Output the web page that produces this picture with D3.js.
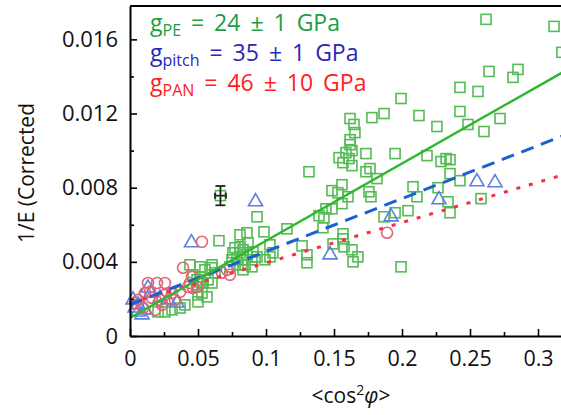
<!DOCTYPE html>
<html>
<head>
<meta charset="utf-8">
<script src="https://cdn.jsdelivr.net/npm/d3@7"></script>
<style>
  body { margin: 0; background: #fff; }
  svg { display: block; font-family: "Open Sans", sans-serif; }
</style>
</head>
<body>
<svg id="chart"></svg>
<script>
// PE (squares)
const peX = [0.2618, 0.3118, 0.3176, 0.2640, 0.2853, 0.2816, 0.2426, 0.2559, 0.1993, 0.1868,
  0.2125, 0.2426, 0.2257, 0.2485, 0.2603, 0.2721, 0.1949, 0.2184, 0.2287, 0.2324,
  0.2353, 0.2353, 0.2426, 0.2081, 0.2265, 0.2581, 0.2110, 0.2338, 0.2353, 0.2044,
  0.1949, 0.1868, 0.1993,
  0.1618, 0.1647, 0.1654, 0.1618, 0.1618, 0.1632, 0.1588, 0.1537, 0.1566, 0.1610,
  0.1632, 0.1735, 0.1779, 0.1316, 0.1735, 0.1765, 0.1816, 0.1757, 0.1772, 0.1559,
  0.1485, 0.1529, 0.1603, 0.1559, 0.1485, 0.1441, 0.1390, 0.1426, 0.1419, 0.1566,
  0.1566, 0.1574, 0.1493, 0.1632, 0.1676, 0.1640, 0.1265, 0.1301, 0.1301, 0.1154,
  0.0934, 0.0985, 0.1029, 0.0654, 0.0860, 0.0809, 0.0772, 0.0809, 0.0831, 0.0868,
  0.0757, 0.0809, 0.0860, 0.0904, 0.0934, 0.0897, 0.0831, 0.0787, 0.0750, 0.0735,
  0.0794, 0.0846, 0.0897, 0.0831, 0.0993, 0.1029, 0.1051, 0.0515, 0.0551, 0.0603,
  0.0625, 0.0574, 0.0537, 0.0463, 0.0441, 0.0515, 0.0603, 0.0493, 0.0515, 0.0493,
  0.0529, 0.0566, 0.0500, 0.0603, 0.0404, 0.0368, 0.0309, 0.0257, 0.0206, 0.0500];
const peY = [0.01708, 0.01670, 0.01530, 0.01427, 0.01438, 0.01395, 0.01341, 0.01319, 0.01281, 0.01200,
  0.01189, 0.01211, 0.01130, 0.01141, 0.01103, 0.01173, 0.00984, 0.00973, 0.00941, 0.00957,
  0.00951, 0.00876, 0.00838, 0.00805, 0.00800, 0.00741, 0.00751, 0.00724, 0.00665, 0.00676,
  0.00665, 0.00643, 0.00373,
  0.01173, 0.01141, 0.01097, 0.01059, 0.01032, 0.01000, 0.00989, 0.00962, 0.00935, 0.00957,
  0.00919, 0.00984, 0.01178, 0.00886, 0.00886, 0.00903, 0.00849, 0.00778, 0.00751, 0.00816,
  0.00784, 0.00773, 0.00751, 0.00714, 0.00686, 0.00686, 0.00649, 0.00638, 0.00584, 0.00551,
  0.00524, 0.00481, 0.00497, 0.00465, 0.00427, 0.00400, 0.00486, 0.00438, 0.00395, 0.00578,
  0.00643, 0.00562, 0.00492, 0.00514, 0.00557, 0.00546, 0.00476, 0.00481, 0.00465, 0.00503,
  0.00449, 0.00449, 0.00438, 0.00454, 0.00427, 0.00411, 0.00411, 0.00422, 0.00411, 0.00373,
  0.00384, 0.00384, 0.00373, 0.00357, 0.00411, 0.00427, 0.00449, 0.00319, 0.00357, 0.00368,
  0.00341, 0.00303, 0.00286, 0.00330, 0.00384, 0.00373, 0.00384, 0.00303, 0.00292, 0.00265,
  0.00232, 0.00211, 0.00184, 0.00286, 0.00168, 0.00151, 0.00141, 0.00130, 0.00130, 0.00222];

// pitch (triangles)
const pitchX = [0.0923, 0.0452, 0.2551, 0.2684, 0.2272, 0.1919, 0.1471, 0.0154, 0.0059, 0.0037,
  0.0088, 0.0059, 0.0110, 0.0346, 0.0279, 0.0022, 0.0132, 0.0221];
const pitchY = [0.00724, 0.00503, 0.00832, 0.00827, 0.00735, 0.00643, 0.00438, 0.00232, 0.00168, 0.00151,
  0.00114, 0.00130, 0.00141, 0.00178, 0.00195, 0.00195, 0.00259, 0.00205];

// PAN (circles)
const panX = [0.0529, 0.1890, 0.0390, 0.0676, 0.0735, 0.0713, 0.0493, 0.0456, 0.0441, 0.0132,
  0.0199, 0.0257, 0.0147, 0.0110, 0.0162, 0.0221, 0.0257, 0.0309, 0.0331, 0.0368,
  0.0426, 0.0463, 0.0235, 0.0184, 0.0059, 0.0037, 0.0096];
const panY = [0.00508, 0.00557, 0.00368, 0.00341, 0.00330, 0.00357, 0.00265, 0.00319, 0.00286, 0.00286,
  0.00286, 0.00286, 0.00238, 0.00232, 0.00205, 0.00195, 0.00222, 0.00232, 0.00195, 0.00238,
  0.00265, 0.00259, 0.00168, 0.00141, 0.00195, 0.00178, 0.00151];

// reference point with error bars
const refX = 0.0665, refY = 0.00757, refXErr = 0.004, refYErr = 0.00052;

// fits: slope = 1/g
const gNames = ["PE", "pitch", "PAN"];
const gValues = [24, 35, 46];
const gErrors = [1, 1, 10];
const fitIntercepts = [0.00097, 0.0017, 0.00177];

const xTicks = [0, 0.05, 0.1, 0.15, 0.2, 0.25, 0.3];
const yTicks = [0, 0.004, 0.008, 0.012, 0.016];

const width = 561, height = 415;
const svg = d3.select("#chart").attr("width", width).attr("height", height);

const x = d3.scaleLinear().domain([0, 0.33]).range([130, 130 + 0.33 * 1360]);
const y = d3.scaleLinear().domain([0, 0.0178]).range([336, 6]);

const green = "#2eb82e", blue = "#1a5fd6", red = "#f5303f";

// points
const plot = svg.append("g");

plot.selectAll(".sq")
  .data(d3.zip(peX, peY))
  .enter().append("rect")
  .attr("x", d => x(d[0]) - 5)
  .attr("y", d => y(d[1]) - 5)
  .attr("width", 10).attr("height", 10)
  .attr("fill", "none")
  .attr("stroke", "#55bb55")
  .attr("stroke-width", 1.6);

const tri = d3.symbol().type(d3.symbolTriangle).size(85);
plot.selectAll(".tri")
  .data(d3.zip(pitchX, pitchY))
  .enter().append("path")
  .attr("d", tri)
  .attr("transform", d => `translate(${x(d[0])},${y(d[1])})`)
  .attr("fill", "none")
  .attr("stroke", "#5b80e0")
  .attr("stroke-width", 1.6);

plot.selectAll(".circ")
  .data(d3.zip(panX, panY))
  .enter().append("circle")
  .attr("cx", d => x(d[0]))
  .attr("cy", d => y(d[1]))
  .attr("r", 5.5)
  .attr("fill", "none")
  .attr("stroke", "#e06474")
  .attr("stroke-width", 1.6);

// reference point
plot.append("rect")
  .attr("x", x(refX) - 5).attr("y", y(refY) - 5)
  .attr("width", 10).attr("height", 10)
  .attr("fill", "none").attr("stroke", "#55bb55").attr("stroke-width", 1.6);
const eb = plot.append("g").attr("stroke", "#222").attr("stroke-width", 1.8);
eb.append("line").attr("x1", x(refX)).attr("x2", x(refX)).attr("y1", y(refY - refYErr)).attr("y2", y(refY + refYErr));
eb.append("line").attr("x1", x(refX) - 5).attr("x2", x(refX) + 5).attr("y1", y(refY - refYErr)).attr("y2", y(refY - refYErr));
eb.append("line").attr("x1", x(refX) - 5).attr("x2", x(refX) + 5).attr("y1", y(refY + refYErr)).attr("y2", y(refY + refYErr));
eb.append("line").attr("x1", x(refX - refXErr)).attr("x2", x(refX + refXErr)).attr("y1", y(refY)).attr("y2", y(refY));
eb.append("line").attr("x1", x(refX - refXErr)).attr("x2", x(refX - refXErr)).attr("y1", y(refY) - 3).attr("y2", y(refY) + 3);
eb.append("line").attr("x1", x(refX + refXErr)).attr("x2", x(refX + refXErr)).attr("y1", y(refY) - 3).attr("y2", y(refY) + 3);

// fit lines
const fitStyles = [
  { color: green, dash: null, w: 2.5 },
  { color: blue, dash: "13,8", w: 3 },
  { color: red, dash: "4,9", w: 3 }
];
[2, 1, 0].forEach(i => {
  const xs = [0, 0.33];
  const line = d3.line().x(d => x(d)).y(d => y(fitIntercepts[i] + d / gValues[i]));
  svg.append("path")
    .datum(xs)
    .attr("d", line)
    .attr("fill", "none")
    .attr("stroke", fitStyles[i].color)
    .attr("stroke-width", fitStyles[i].w)
    .attr("stroke-dasharray", fitStyles[i].dash);
});

// axes
const xMinor = d3.range(0.025, 0.33, 0.05);
const yMinor = d3.range(0.002, 0.0178, 0.004);

const gx = svg.append("g")
  .attr("transform", `translate(0,${y(0)})`)
  .call(d3.axisBottom(x).tickValues(xTicks).tickFormat(d => d === 0 ? "0" : String(d)).tickSizeInner(-7).tickSizeOuter(0).tickPadding(15));
gx.select(".domain").attr("stroke-width", 2);
gx.selectAll(".tick line").attr("stroke-width", 1.6);
gx.selectAll("text").attr("font-size", 21.5).attr("font-family", "Open Sans").attr("fill", "#111");
svg.append("g")
  .attr("transform", `translate(0,${y(0)})`)
  .call(d3.axisBottom(x).tickValues(xMinor).tickFormat("").tickSizeInner(-4).tickSizeOuter(0))
  .call(g => g.select(".domain").remove())
  .selectAll(".tick line").attr("stroke-width", 1.6);

const gy = svg.append("g")
  .attr("transform", `translate(${x(0)},0)`)
  .call(d3.axisLeft(y).tickValues(yTicks).tickFormat(d => d === 0 ? "0" : d3.format(".3f")(d)).tickSizeInner(-7).tickSizeOuter(0).tickPadding(12));
gy.select(".domain").attr("stroke-width", 2);
gy.selectAll(".tick line").attr("stroke-width", 1.6);
gy.selectAll("text").attr("font-size", 22).attr("font-family", "Open Sans").attr("fill", "#111");
svg.append("g")
  .attr("transform", `translate(${x(0)},0)`)
  .call(d3.axisLeft(y).tickValues(yMinor).tickFormat("").tickSizeInner(-4).tickSizeOuter(0))
  .call(g => g.select(".domain").remove())
  .selectAll(".tick line").attr("stroke-width", 1.6);

// top frame
svg.append("line")
  .attr("x1", x(0)).attr("x2", width)
  .attr("y1", y(0.0178)).attr("y2", y(0.0178))
  .attr("stroke", "#000").attr("stroke-width", 2);

// axis titles
svg.append("text")
  .attr("transform", `translate(34,173) rotate(-90)`)
  .attr("text-anchor", "middle")
  .attr("font-size", 21)
  .attr("fill", "#111")
  .text("1/E (Corrected");

const xt = svg.append("text")
  .attr("x", 351).attr("y", 403)
  .attr("text-anchor", "middle")
  .attr("font-size", 21)
  .attr("fill", "#111");
xt.append("tspan").text("<cos");
xt.append("tspan").attr("font-size", 14).attr("dy", -8).text("2");
xt.append("tspan").attr("dy", 8).attr("font-style", "italic").text("φ");
xt.append("tspan").text(">");

// legend
const legendColors = ["#1e9e3e", "#2828b8", "#ff2020"];
gNames.forEach((name, i) => {
  const t = svg.append("text")
    .attr("x", 150).attr("y", 31 + i * 30)
    .attr("font-size", 23)
    .attr("word-spacing", 4)
    .attr("fill", legendColors[i]);
  t.append("tspan").text("g");
  t.append("tspan").attr("font-size", 16).attr("dy", 5).text(name);
  t.append("tspan").attr("dy", -5).text(` = ${gValues[i]} ± ${gErrors[i]} GPa`);
});
</script>
</body>
</html>
